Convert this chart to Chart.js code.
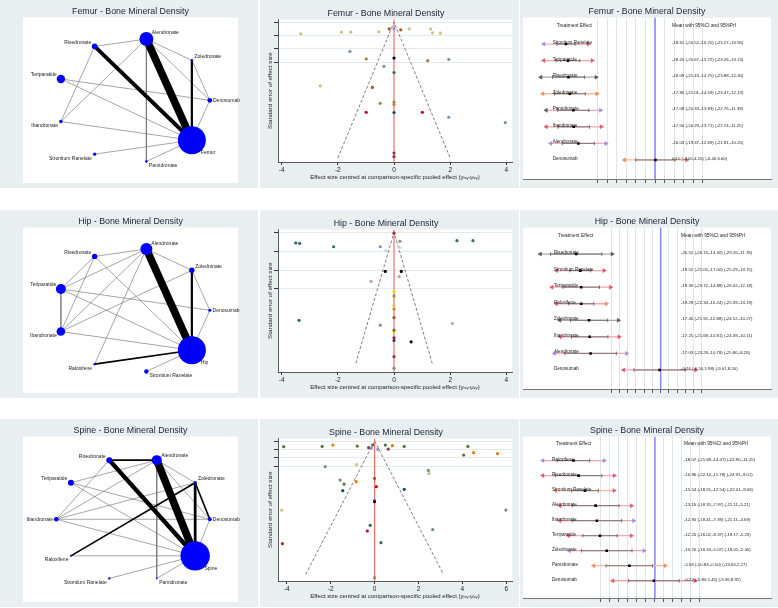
<!DOCTYPE html>
<html lang="en">

<head>
  <meta charset="UTF-8">
  <title>Bone Mineral Density - network, funnel and interval plots</title>
  <script src="https://cdn.jsdelivr.net/npm/chart.js"></script>
  <style>
    body {
      margin: 0;
      width: 778px;
      height: 608px;
      position: relative;
      overflow: hidden;
      background: #fff;
    }

    canvas {
      position: absolute;
      background: #e9eff1;
    }
  </style>
</head>

<body>

  <canvas id="femurNet" width="258" height="188" style="left:0;top:0"></canvas>
  <canvas id="femurFunnel" width="259" height="188" style="left:260px;top:0"></canvas>
  <canvas id="femurForest" width="258" height="188" style="left:520px;top:0"></canvas>
  <canvas id="hipNet" width="258" height="188" style="left:0;top:210px"></canvas>
  <canvas id="hipFunnel" width="259" height="188" style="left:260px;top:210px"></canvas>
  <canvas id="hipForest" width="258" height="188" style="left:520px;top:210px"></canvas>
  <canvas id="spineNet" width="258" height="188" style="left:0;top:419px"></canvas>
  <canvas id="spineFunnel" width="259" height="188" style="left:260px;top:419px"></canvas>
  <canvas id="spineForest" width="258" height="188" style="left:520px;top:419px"></canvas>

  <script>
    // ---------- network plots: nodes (clockwise from top), node weights, edges [a, b, studies] ----------
    const femurNodes = ['Alendronate', 'Zoledronate', 'Denosumab', 'Femur', 'Pamidronate', 'Strontium Ranelate', 'Ibandronate', 'Teriparatide', 'Risedronate'];
    const femurNodeSize = [49, 1.5, 5.5, 196, 1.7, 2.6, 3.2, 17.6, 7.8];
    const femurEdges = [
      ['Alendronate', 'Femur', 14], ['Risedronate', 'Femur', 7], ['Zoledronate', 'Femur', 4],
      ['Alendronate', 'Risedronate', 1], ['Alendronate', 'Zoledronate', 1], ['Alendronate', 'Denosumab', 1],
      ['Alendronate', 'Ibandronate', 1], ['Alendronate', 'Pamidronate', 1], ['Risedronate', 'Ibandronate', 1],
      ['Teriparatide', 'Denosumab', 1], ['Teriparatide', 'Femur', 1], ['Ibandronate', 'Femur', 1],
      ['Strontium Ranelate', 'Femur', 1], ['Pamidronate', 'Femur', 1], ['Zoledronate', 'Denosumab', 1],
      ['Denosumab', 'Femur', 1]
    ];

    const hipNodes = ['Alendronate', 'Zoledronate', 'Denosumab', 'Hip', 'Strontium Ranelate', 'Raloxifene', 'Ibandronate', 'Teriparatide', 'Risedronate'];
    const hipNodeSize = [36, 7.3, 2.3, 196, 4.8, 1.4, 18.5, 25, 7.3];
    const hipEdges = [
      ['Alendronate', 'Hip', 14], ['Zoledronate', 'Hip', 4], ['Raloxifene', 'Hip', 3],
      ['Risedronate', 'Alendronate', 1], ['Risedronate', 'Teriparatide', 1], ['Risedronate', 'Ibandronate', 1],
      ['Risedronate', 'Hip', 1], ['Alendronate', 'Teriparatide', 1], ['Alendronate', 'Ibandronate', 1],
      ['Alendronate', 'Raloxifene', 1], ['Alendronate', 'Zoledronate', 1], ['Zoledronate', 'Ibandronate', 1],
      ['Zoledronate', 'Denosumab', 1], ['Teriparatide', 'Denosumab', 1], ['Teriparatide', 'Hip', 1],
      ['Teriparatide', 'Ibandronate', 1], ['Ibandronate', 'Hip', 1], ['Denosumab', 'Hip', 1],
      ['Strontium Ranelate', 'Hip', 1]
    ];

    const spineNodes = ['Alendronate', 'Zoledronate', 'Denosumab', 'Spine', 'Pamidronate', 'Strontium Ranelate', 'Raloxifene', 'Ibandronate', 'Teriparatide', 'Risedronate'];
    const spineNodeSize = [25, 3, 4, 216, 0.7, 1.4, 1, 5.3, 9, 9];
    const spineEdges = [
      ['Alendronate', 'Spine', 14], ['Risedronate', 'Spine', 8], ['Zoledronate', 'Spine', 5],
      ['Zoledronate', 'Raloxifene', 3], ['Risedronate', 'Alendronate', 3], ['Zoledronate', 'Denosumab', 3],
      ['Alendronate', 'Teriparatide', 1], ['Alendronate', 'Ibandronate', 1], ['Alendronate', 'Zoledronate', 1],
      ['Alendronate', 'Denosumab', 1], ['Alendronate', 'Pamidronate', 1], ['Risedronate', 'Ibandronate', 1],
      ['Teriparatide', 'Denosumab', 1], ['Teriparatide', 'Spine', 1], ['Ibandronate', 'Zoledronate', 1],
      ['Ibandronate', 'Denosumab', 1], ['Ibandronate', 'Spine', 1], ['Raloxifene', 'Spine', 1],
      ['Strontium Ranelate', 'Spine', 1], ['Pamidronate', 'Spine', 1], ['Denosumab', 'Spine', 1]
    ];

    // ---------- comparison-adjusted funnel plots ----------
    const femurFunnelX = [-3.32, -1.87, -1.54, -0.54, 0.54, 1.30, 1.37, 1.65, -2.63, -0.17, 0.24, -0.77, 0,
      -1.57, 1.95, -0.36, 1.95, 3.96, -0.99, 1.20, -0.49, 0, 0, 0, 0, -0.99, 1.01, 0, 0, 0];
    const femurFunnelSE = [0.087, 0.075, 0.075, 0.072, 0.05, 0.05, 0.08, 0.082, 0.478, 0.05, 0.057, 0.49, 0.05,
      0.219, 0.279, 0.331, 0.714, 0.754, 0.276, 0.289, 0.609, 0.269, 0.378, 0.60, 0.617, 0.677, 0.677, 0.679, 0.983, 1.01];
    const femurFunnelComp = ['khaki', 'khaki', 'khaki', 'khaki', 'khaki', 'khaki', 'khaki', 'khaki', 'khaki',
      'sienna', 'sienna', 'sienna', 'lavender', 'emidblue', 'emidblue', 'emidblue', 'emidblue', 'emidblue',
      'brown', 'brown', 'brown', 'black', 'emerald', 'teal', 'dkorange', 'cranberry', 'cranberry', 'navy', 'maroon', 'maroon'];

    const hipFunnelX = [-3.50, -3.36, -2.15, 2.24, 2.81, -3.38, -0.49, 0.21, -0.49, -0.29, 0.21, -0.31, 0.26, 0.61,
      -0.82, 0.18, 2.08, 0, 0, 0, 0, 0, 0, 0, 0, 0, 0, 0, 0];
    const hipFunnelSE = [0.056, 0.058, 0.076, 0.044, 0.044, 0.466, 0.076, 0.047, 0.492, 0.097, 0.08, 0.207, 0.207, 0.58,
      0.26, 0.234, 0.483, 0.004, 0.659, 0.313, 0.527, 0.337, 0.388, 0.406, 0.452, 0.518, 0.559, 0.573, 0.72];
    const hipFunnelComp = ['emerald', 'emerald', 'emerald', 'emerald', 'emerald', 'emerald', 'emidblue', 'emidblue', 'emidblue',
      'bluishgray', 'bluishgray', 'black', 'black', 'black', 'erose', 'erose', 'erose', 'maroon', 'maroon', 'gold', 'gold',
      'brown', 'khaki', 'dkorange', 'sienna', 'forest', 'cranberry', 'navy', 'teal'];

    const spineFunnelX = [-4.14, -2.39, -0.79, 0.49, 1.35, 4.25, 4.06, -1.39, -0.09, -1.90, 0.81, 4.51, 5.60, -0.84,
      -0.27, 0.62, -4.2, -0.15, 0.15, -0.82, 2.47, -4.23, -2.25, 2.45, -1.57, 5.98, 2.65, 0, 0.08, -0.33, -1.45, 1.35,
      0, 0, -0.2, 0.29, 0];
    const spineFunnelSE = [0.068, 0.064, 0.06, 0.048, 0.064, 0.064, 0.168, 0.516, 0.048, 0.048, 0.056, 0.14, 0.152, 0.488,
      0.08, 0.096, 1.232, 0.084, 0.1, 0.284, 0.392, 0.828, 0.308, 0.352, 0.468, 0.828, 1.064, 0.448, 0.548, 1.08, 0.596, 0.58,
      0.708, 0.728, 1.012, 1.22, 1.64];
    const spineFunnelComp = ['forest', 'forest', 'forest', 'forest', 'forest', 'forest', 'forest', 'forest', 'forest',
      'dkorange', 'dkorange', 'dkorange', 'dkorange', 'dkorange', 'maroon', 'maroon', 'maroon', 'lavender', 'lavender',
      'khaki', 'khaki', 'khaki', 'teal', 'teal', 'teal', 'teal', 'teal', 'sienna', 'cranberry', 'cranberry', 'navy', 'navy',
      'emidblue', 'black', 'emerald', 'emerald', 'brown'];

    const funnelTicksY = [0, 0.1, 0.2, 0.3];
    const funnelTicksX = [-4, -2, 0, 2, 4];
    const spineFunnelTicksX = [-4, -2, 0, 2, 4, 6];

    // ---------- interval plots: mean, 95% CI, 95% PrI ----------
    const femurTreat = ['Strontium Ranelate', 'Teriparatide', 'Risedronate', 'Zoledronate', 'Pamidronate', 'Ibandronate', 'Alendronate', 'Denosumab'];
    const femurMean = [-18.61, -18.20, -18.09, -17.80, -17.08, -17.00, -16.03, 0.10];
    const femurCiLo = [-20.52, -20.67, -21.43, -21.01, -20.33, -20.29, -19.37, -4.00];
    const femurCiHi = [-16.70, -15.72, -14.75, -14.59, -13.83, -13.71, -12.69, 4.20];
    const femurPiLo = [-23.27, -23.26, -23.88, -23.47, -22.76, -22.74, -21.81, -6.40];
    const femurPiHi = [-13.95, -13.13, -12.30, -12.13, -11.39, -11.25, -10.25, 6.60];

    const hipTreat = ['Risedronate', 'Strontium Ranelate', 'Teriparatide', 'Raloxifene', 'Zoledronate', 'Ibandronate', 'Alendronate', 'Denosumab'];
    const hipMean = [-20.52, -19.52, -19.30, -19.29, -17.40, -17.25, -17.03, -0.26];
    const hipCiLo = [-26.74, -22.05, -23.72, -22.34, -21.92, -21.69, -23.29, -6.50];
    const hipCiHi = [-14.30, -17.00, -14.88, -16.24, -12.88, -12.81, -10.78, 5.98];
    const hipPiLo = [-29.26, -25.29, -26.42, -25.39, -24.52, -24.39, -25.80, -9.01];
    const hipPiHi = [-11.78, -13.75, -12.18, -13.19, -10.27, -10.11, -8.26, 8.50];

    const spineTreat = ['Raloxifene', 'Risedronate', 'Strontium Ranelate', 'Alendronate', 'Ibandronate', 'Teriparatide', 'Zoledronate', 'Pamidronate', 'Denosumab'];
    const spineMean = [-18.07, -16.96, -15.54, -13.16, -12.90, -12.20, -10.70, -5.66, -0.22];
    const spineCiLo = [-21.68, -22.14, -18.55, -18.35, -18.41, -16.02, -16.33, -10.83, -5.84];
    const spineCiHi = [-14.47, -11.78, -12.54, -7.97, -7.39, -8.37, -5.07, -0.50, 5.40];
    const spinePiLo = [-24.90, -24.91, -22.01, -21.11, -21.11, -19.17, -19.01, -13.60, -9.36];
    const spinePiHi = [-11.25, -9.01, -9.06, -5.21, -4.69, -5.23, -2.40, 2.27, 8.92];

    const forestTicks = [-12, -10, -8, -6, -4, -2, 0, 2, 4, 6, 8, 10];

    // arrow colours at the ends of the prediction intervals
    const femurArrows = [['lav', 'red'], ['red', 'red'], ['gray', 'gray'], ['orange', 'orange'], ['gray', 'lav'], ['red', 'red'], ['lav', 'lav'], ['orange', 'red']];
    const hipArrows = [['gray', 'gray'], ['red', 'red'], ['red', 'red'], ['red', 'orange'], ['gray', 'gray'], ['red', 'red'], ['lav', 'lav'], ['red', 'red']];
    const spineArrows = [['lav', 'lav'], ['red', 'red'], ['orange', 'red'], ['red', 'red'], ['red', 'lav'], ['red', 'red'], ['lav', 'lav'], ['orange', 'orange'], ['red', 'red']];

    // ---------- styling ----------
    const FONT = '"Liberation Sans", Arial, sans-serif';
    Chart.defaults.font.family = FONT;
    Chart.defaults.color = '#222';

    const palette = {
      navy: '#1a476f', maroon: '#90353b', forest: '#55752f', dkorange: '#e37e00', teal: '#6e8e84',
      cranberry: '#c10534', lavender: '#938dc7', khaki: '#cac27e', sienna: '#a0522d', emidblue: '#7b92a8',
      emerald: '#2d6d66', brown: '#9c8847', erose: '#bfa19c', gold: '#ffd200', bluishgray: '#c9d8de', black: '#000'
    };
    const arrowColor = { red: '#e0566a', lav: '#9d8fe0', gray: '#5a5a5a', orange: '#f08a5d' };
    const piColor = { red: '#f3a5b0', lav: '#f3a5b0', gray: '#a8a8a8', orange: '#f6b9a0' };

    const whiteArea = {
      id: 'whiteArea',
      beforeDraw(chart) {
        const { ctx, chartArea: a } = chart;
        ctx.save();
        ctx.fillStyle = '#fff';
        ctx.fillRect(a.left, a.top, a.right - a.left, a.bottom - a.top);
        ctx.restore();
      }
    };

    function titleOpts(text) {
      return {
        display: true, text, color: '#1a2433',
        font: { size: 8.8, weight: 'normal' }, padding: { top: 6, bottom: 1 }
      };
    }

    const base = {
      responsive: false, animation: false, devicePixelRatio: 1,
      events: []
    };

    // ---------- network ----------
    const nodeLabels = {
      id: 'nodeLabels',
      afterDatasetsDraw(chart, args, opts) {
        const { ctx, scales: { x, y } } = chart;
        ctx.save();
        ctx.font = '5px ' + FONT;
        ctx.fillStyle = '#222';
        ctx.textBaseline = 'middle';
        opts.names.forEach((name, i) => {
          const p = opts.pos[i], r = opts.radii[i];
          const px = x.getPixelForValue(p.x), py = y.getPixelForValue(p.y);
          const right = p.x > 0.05;
          const off = Math.abs(p.y) < 0.2 ? 0 : -Math.sign(p.y) * (4 + 0.8 * Math.max(0, r - 4));
          ctx.textAlign = right ? 'left' : 'right';
          ctx.fillText(name, right ? px + r * 0.5 + 2 : px - r * 0.5 - 2, py + off);
        });
        ctx.restore();
      }
    };

    function networkChart(id, title, nodes, sizes, edges) {
      const n = nodes.length;
      const pos = nodes.map((_, i) => {
        const a = (2 - i) * 2 * Math.PI / n;
        return { x: Math.cos(a), y: Math.sin(a) };
      });
      const radii = sizes.map(s => Math.sqrt(s));
      const edgeSets = edges.map(([a, b, w]) => ({
        data: [pos[nodes.indexOf(a)], pos[nodes.indexOf(b)]],
        showLine: true, borderColor: w > 1 ? '#000' : '#6a6a6a', borderWidth: w > 1 ? 0.55 * w : 0.6,
        pointRadius: 0, order: 1
      }));
      const nodeSet = {
        type: 'bubble', order: 0,
        data: pos.map((p, i) => ({ x: p.x, y: p.y, r: radii[i] })),
        backgroundColor: '#0000ff', borderColor: '#0000ff', borderWidth: 0
      };
      return new Chart(document.getElementById(id), {
        type: 'scatter',
        data: { datasets: [nodeSet, ...edgeSets] },
        options: {
          ...base,
          layout: { autoPadding: false, padding: { left: 23, right: 20, top: 0, bottom: 5 } },
          scales: {
            x: { type: 'linear', display: false, min: -1.433, max: 1.367 },
            y: { type: 'linear', display: false, min: -1.33, max: 1.33 }
          },
          plugins: {
            legend: { display: false }, tooltip: { enabled: false },
            title: titleOpts(title),
            nodeLabels: { names: nodes, pos, radii }
          }
        },
        plugins: [whiteArea, nodeLabels]
      });
    }

    // ---------- funnel ----------
    function funnelChart(id, title, xs, ses, comps, r) {
      const pts = xs.map((x, i) => ({ x, y: ses[i] }));
      return new Chart(document.getElementById(id), {
        type: 'scatter',
        data: {
          datasets: [
            {
              data: pts, order: 0, pointRadius: 1.6, pointBorderWidth: 0,
              pointBackgroundColor: comps.map(c => palette[c])
            },
            {
              data: [{ x: 0, y: r.yMin }, { x: 0, y: r.yMax }], order: 1,
              showLine: true, borderColor: '#f46d6d', borderWidth: 1.2, pointRadius: 0
            },
            {
              data: [{ x: -1.96 * r.seMax, y: r.seMax }, { x: 0, y: 0 }, { x: 1.96 * r.seMax, y: r.seMax }], order: 2,
              showLine: true, borderColor: '#444', borderWidth: 0.7, borderDash: [3, 2], pointRadius: 0
            }
          ]
        },
        options: {
          ...base,
          layout: { autoPadding: false, padding: { left: 0, right: 7, top: 2, bottom: 0 } },
          scales: {
            x: {
              type: 'linear', min: r.xMin, max: r.xMax,
              afterFit: s => { s.height = 26; },
              afterBuildTicks: s => { s.ticks = r.ticks.map(v => ({ value: v })); },
              grid: { drawOnChartArea: false, tickLength: 3, tickColor: '#333' },
              border: { color: '#333', width: 0.8 },
              ticks: { font: { size: 6.5 }, padding: 1, color: '#222' },
              title: {
                display: true, text: 'Effect size centred at comparison-specific pooled effect (yᵢₓᵧ-μₓᵧ)',
                font: { size: 6 }, color: '#222', padding: { top: 0, bottom: 7 }
              }
            },
            y: {
              type: 'linear', reverse: true, min: r.yMin, max: r.yMax,
              afterFit: s => { s.width = 18; },
              afterBuildTicks: s => { s.ticks = funnelTicksY.map(v => ({ value: v })); },
              grid: { color: '#e3e9ec', tickLength: 4, tickColor: '#333' },
              border: { color: '#333', width: 0.8 },
              ticks: { display: false },
              title: {
                display: true, text: 'Standard error of effect size',
                font: { size: 6.2 }, color: '#222', padding: { top: 7, bottom: 0 }
              }
            }
          },
          plugins: { legend: { display: false }, tooltip: { enabled: false }, title: titleOpts(title) }
        },
        plugins: [whiteArea]
      });
    }

    // ---------- interval (forest) ----------
    const forestText = {
      id: 'forestText',
      afterDatasetsDraw(chart, args, o) {
        const { ctx, chartArea: a, scales: { y } } = chart;
        ctx.save();
        ctx.fillStyle = '#222';
        ctx.textAlign = 'left';
        ctx.textBaseline = 'middle';
        ctx.font = '4.8px ' + FONT;
        const hy = y.getPixelForValue(-1.1);
        ctx.fillText('Treatment Effect', a.left + o.headX, hy);
        ctx.fillText('Mean with 95%CI and 95%PrI', a.left + o.valX, hy);
        o.names.forEach((name, i) => {
          const py = y.getPixelForValue(i);
          ctx.font = '4.6px ' + FONT;
          ctx.textBaseline = 'bottom';
          ctx.fillText(name, a.left + o.nameX, py + 1);
          ctx.font = '4.3px ' + FONT;
          ctx.textBaseline = 'middle';
          ctx.fillText(o.values[i], a.left + o.valX, py - 1);
        });
        ctx.restore();
      }
    };

    function forestChart(id, title, treat, mean, ciLo, ciHi, piLo, piHi, arrows, r) {
      const n = treat.length;
      const yMin = -1.6, yMax = n + 0.15;
      const f = v => v.toFixed(2);
      const values = treat.map((_, i) => `${f(mean[i])} (${f(ciLo[i])},${f(ciHi[i])}) (${f(piLo[i])},${f(piHi[i])})`);
      const sets = [{
        data: [{ x: 0, y: yMin }, { x: 0, y: yMax }], order: 3,
        showLine: true, borderColor: '#8c8cf5', borderWidth: 1.6, pointRadius: 0
      }];
      treat.forEach((_, i) => {
        const [l, rr] = arrows[i];
        sets.push({
          data: [{ x: piLo[i], y: i }, { x: piHi[i], y: i }], order: 2,
          showLine: true, borderColor: piColor[l === 'gray' && rr === 'gray' ? 'gray' : (l === 'orange' ? 'orange' : 'red')],
          borderWidth: 1.3, pointStyle: 'triangle', pointRadius: 2.3, pointRotation: [-90, 90],
          pointBackgroundColor: [arrowColor[l], arrowColor[rr]], pointBorderColor: [arrowColor[l], arrowColor[rr]],
          pointBorderWidth: 0.5
        });
        sets.push({
          data: [{ x: ciLo[i], y: i }, { x: ciHi[i], y: i }], order: 1,
          showLine: true, borderColor: '#7a7a7a', borderWidth: 1, pointStyle: 'line', pointRotation: 90,
          pointRadius: 1.8, pointBorderColor: '#555', pointBorderWidth: 0.8
        });
        sets.push({
          data: [{ x: mean[i], y: i }], order: 0,
          pointStyle: 'rect', pointRadius: 1.8, pointBackgroundColor: '#000', pointBorderWidth: 0
        });
      });
      return new Chart(document.getElementById(id), {
        type: 'scatter',
        data: { datasets: sets },
        options: {
          ...base,
          layout: { autoPadding: false, padding: { left: 3, right: 7, top: 0, bottom: 0 } },
          scales: {
            x: {
              type: 'linear', min: r.xMin, max: r.xMax,
              afterFit: s => { s.height = 9; },
              afterBuildTicks: s => { s.ticks = forestTicks.map(v => ({ value: v })); },
              grid: { color: '#dfe6ea', tickLength: 4, tickColor: '#555' },
              border: { color: '#777', width: 1 },
              ticks: { display: false }
            },
            y: { type: 'linear', display: false, reverse: true, min: yMin, max: yMax }
          },
          plugins: {
            legend: { display: false }, tooltip: { enabled: false },
            title: titleOpts(title),
            forestText: { names: treat, values, nameX: r.nameX, headX: r.headX, valX: r.valX }
          }
        },
        plugins: [whiteArea, forestText]
      });
    }

    networkChart('femurNet', 'Femur - Bone Mineral Density', femurNodes, femurNodeSize, femurEdges);
    networkChart('hipNet', 'Hip - Bone Mineral Density', hipNodes, hipNodeSize, hipEdges);
    networkChart('spineNet', 'Spine - Bone Mineral Density', spineNodes, spineNodeSize, spineEdges);

    funnelChart('femurFunnel', 'Femur - Bone Mineral Density', femurFunnelX, femurFunnelSE, femurFunnelComp,
      { xMin: -4.13, xMax: 4.2, yMin: -0.02, yMax: 1.05, seMax: 1.02, ticks: funnelTicksX });
    funnelChart('hipFunnel', 'Hip - Bone Mineral Density', hipFunnelX, hipFunnelSE, hipFunnelComp,
      { xMin: -4.13, xMax: 4.2, yMin: -0.015, yMax: 0.74, seMax: 0.694, ticks: funnelTicksX });
    funnelChart('spineFunnel', 'Spine - Bone Mineral Density', spineFunnelX, spineFunnelSE, spineFunnelComp,
      { xMin: -4.4, xMax: 6.26, yMin: -0.03, yMax: 1.68, seMax: 1.6, ticks: spineFunnelTicksX });

    forestChart('femurForest', 'Femur - Bone Mineral Density', femurTreat, femurMean, femurCiLo, femurCiHi, femurPiLo, femurPiHi, femurArrows,
      { xMin: -27.6, xMax: 24.25, nameX: 29.7, headX: 33.7, valX: 149 });
    forestChart('hipForest', 'Hip - Bone Mineral Density', hipTreat, hipMean, hipCiLo, hipCiHi, hipPiLo, hipPiHi, hipArrows,
      { xMin: -33.45, xMax: 26.8, nameX: 31, headX: 35, valX: 158 });
    forestChart('spineForest', 'Spine - Bone Mineral Density', spineTreat, spineMean, spineCiLo, spineCiHi, spinePiLo, spinePiHi, spineArrows,
      { xMin: -29.3, xMax: 25.8, nameX: 29, headX: 33, valX: 161 });
  </script>

</body>

</html>
